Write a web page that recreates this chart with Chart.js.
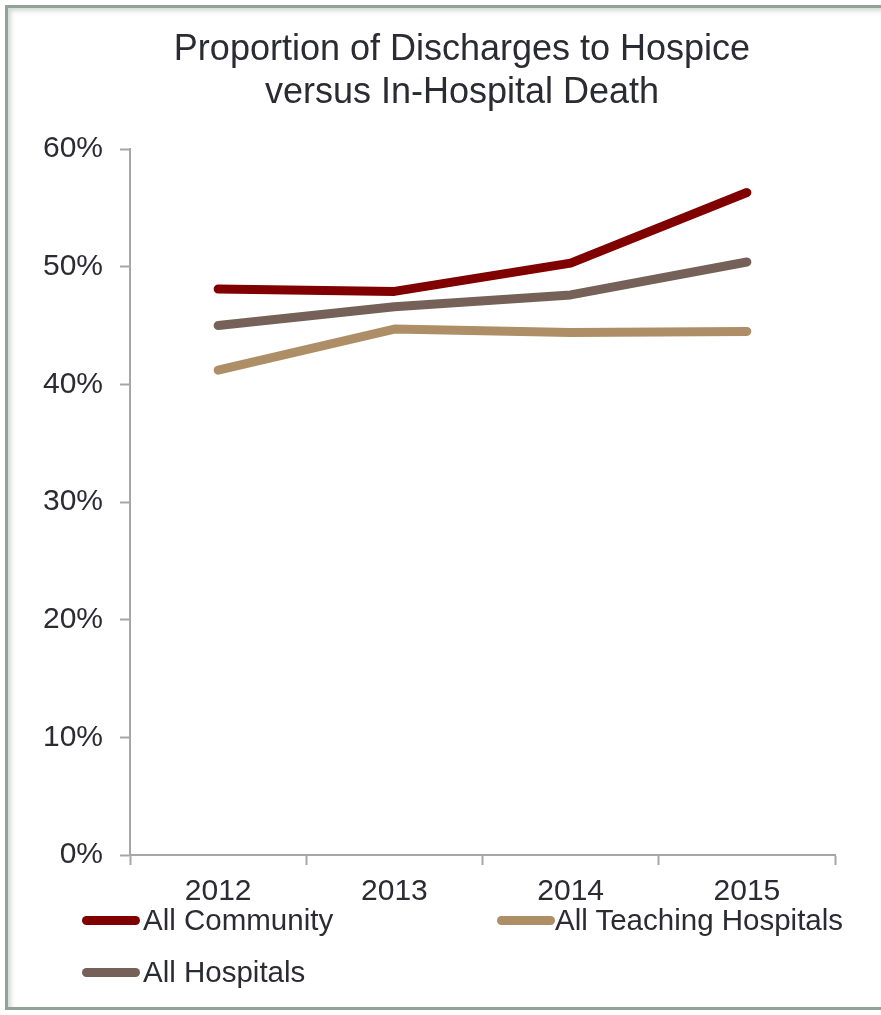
<!DOCTYPE html>
<html>
<head>
<meta charset="utf-8">
<script src="https://cdn.jsdelivr.net/npm/chart.js@4"></script>
<style>
  html, body { margin: 0; padding: 0; background: #fff; }
  #wrap { position: relative; width: 881px; height: 1015px; overflow: hidden; background: #fff; }
  #frame { position: absolute; left: 5px; top: 5px; width: 900px; height: 1005px; box-sizing: border-box;
           border: 3px solid #8fa396; box-shadow: inset 3px 3px 4px rgba(130,150,140,0.35); }
  #c { position: absolute; left: 0; top: 0; }
  #title { position: absolute; left: 62px; width: 800px; top: 26px; text-align: center;
           font-family: 'Liberation Sans', Arial, sans-serif; font-size: 36px; line-height: 43px; color: #2b2b33; }
  .leg { position: absolute; font-family: 'Liberation Sans', Arial, sans-serif; font-size: 29.5px; color: #2b2b33;
         white-space: nowrap; line-height: 32px; }
  .leg .sw { position: absolute; width: 58px; height: 9px; border-radius: 5px; }
</style>
</head>
<body>
<div id="wrap">
  <div id="frame"></div>
  <canvas id="c" width="881" height="1015"></canvas>
  <div id="title">Proportion of Discharges to Hospice<br>versus In-Hospital Death</div>
  <div id="legend"></div>
</div>
<script>
const categories = ['2012', '2013', '2014', '2015'];
const allCommunity = [48.1, 47.9, 50.3, 56.3];
const allTeaching = [41.2, 44.7, 44.4, 44.5];
const allHospitals = [45.0, 46.6, 47.6, 50.4];
const yTicks = [0, 10, 20, 30, 40, 50, 60];
const seriesNames = ['All Community', 'All Teaching Hospitals', 'All Hospitals'];
const seriesColors = ['#800000', '#ae8e66', '#756157'];

const axisColor = '#a6a6a6';
const textColor = '#2b2b33';
const fontFamily = "'Liberation Sans', Arial, sans-serif";

const chart = new Chart(document.getElementById('c'), {
  type: 'line',
  data: {
    labels: categories,
    datasets: [allCommunity, allTeaching, allHospitals].map((d, i) => ({
      label: seriesNames[i],
      data: d,
      borderColor: seriesColors[i],
      backgroundColor: seriesColors[i],
      borderWidth: 9,
      borderCapStyle: 'round',
      borderJoinStyle: 'round',
      pointRadius: 0,
      tension: 0,
      fill: false
    }))
  },
  options: {
    responsive: false,
    animation: false,
    layout: { padding: { top: 149, right: 46, left: 0, bottom: 0 } },
    plugins: { legend: { display: false }, title: { display: false }, tooltip: { enabled: false } },
    scales: {
      x: {
        type: 'category',
        offset: true,
        grid: { display: true, drawOnChartArea: false, drawTicks: true, tickLength: 10, offset: true,
                color: axisColor, tickColor: axisColor, tickWidth: 2 },
        border: { display: true, color: axisColor, width: 2 },
        ticks: { color: textColor, font: { family: fontFamily, size: 30 }, padding: 9, maxRotation: 0 },
        afterFit: (s) => { s.height = 160; }
      },
      y: {
        min: 0, max: 60,
        afterBuildTicks: (s) => { s.ticks = yTicks.map(v => ({ value: v })); },
        grid: { display: true, drawOnChartArea: false, drawTicks: true, tickLength: 10,
                color: axisColor, tickColor: axisColor, tickWidth: 2 },
        border: { display: true, color: axisColor, width: 2 },
        ticks: { color: textColor, font: { family: fontFamily, size: 30 }, padding: 17,
                 callback: (v) => v + '%' },
        afterFit: (s) => { s.width = 130; }
      }
    }
  }
});

// HTML legend built from the chart's datasets
const legendPos = [
  { lineX: 82, textX: 143, cy: 920 },
  { lineX: 497, textX: 555, cy: 920 },
  { lineX: 82, textX: 143, cy: 972 }
];
const legend = document.getElementById('legend');
chart.data.datasets.forEach((ds, i) => {
  const p = legendPos[i];
  const sw = document.createElement('div');
  sw.className = 'leg';
  sw.style.left = '0px'; sw.style.top = '0px';
  const line = document.createElement('div');
  line.className = 'sw';
  line.style.left = p.lineX + 'px';
  line.style.top = (p.cy - 4.5) + 'px';
  line.style.background = ds.borderColor;
  sw.appendChild(line);
  legend.appendChild(sw);
  const t = document.createElement('div');
  t.className = 'leg';
  t.style.left = p.textX + 'px';
  t.style.top = (p.cy - 16) + 'px';
  t.textContent = ds.label;
  legend.appendChild(t);
});
</script>
</body>
</html>
